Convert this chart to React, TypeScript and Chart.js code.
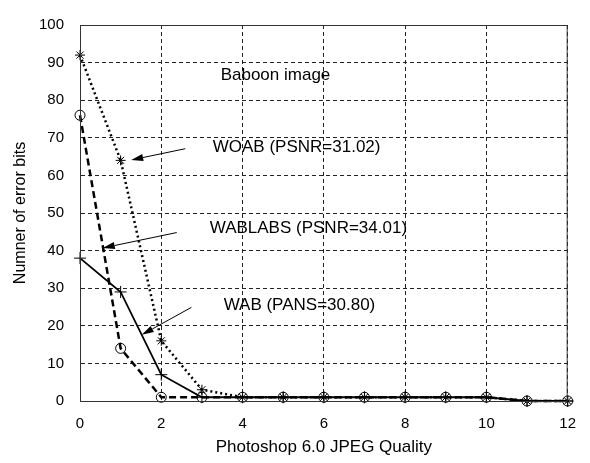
import React, { useEffect, useRef } from "react";
import { Chart, registerables } from "chart.js";

Chart.register(...registerables);

const quality = [0, 1, 2, 3, 4, 5, 6, 7, 8, 9, 10, 11, 12];
const woab = [92, 64, 16, 3, 1, 1, 1, 1, 1, 1, 1, 0, 0];
const wablabs = [76, 14, 1, 1, 1, 1, 1, 1, 1, 1, 1, 0, 0];
const wab = [38, 29, 7, 1, 1, 1, 1, 1, 1, 1, 1, 0, 0];

const xTickValues = [0, 2, 4, 6, 8, 10, 12];
const yTickValues = [0, 10, 20, 30, 40, 50, 60, 70, 80, 90, 100];

const noteTexts = ["Baboon image", "WOAB (PSNR=31.02)", "WABLABS (PSNR=34.01)", "WAB (PANS=30.80)"];
const noteX = [4.81, 5.33, 5.62, 5.4];
const noteY = [86.6, 67.4, 45.8, 25.4];

const arrowFromX = [2.59, 2.38, 2.74];
const arrowFromY = [67.1, 44.8, 24.9];
const arrowToX = [1.26, 0.56, 1.52];
const arrowToY = [64.1, 40.7, 17.6];

const FONT = "'Liberation Sans', Arial, sans-serif";
const NARROW = "'Liberation Sans Narrow', 'Arial Narrow', 'Liberation Sans', sans-serif";

const toPoints = (ys: number[]) => quality.map((x, i) => ({ x, y: ys[i] }));

const annotationPlugin = {
  id: "notes",
  afterDatasetsDraw(chart: any) {
    const { ctx, chartArea, scales } = chart;
    const xs = scales.x;
    const ys = scales.y;
    ctx.save();
    ctx.strokeStyle = "#333";
    ctx.lineWidth = 1;
    ctx.setLineDash([]);
    ctx.strokeRect(chartArea.left + 0.5, chartArea.top + 0.5, chartArea.right - chartArea.left - 1, chartArea.bottom - chartArea.top);
    ctx.fillStyle = "#000";
    ctx.font = `17px ${FONT}`;
    ctx.textAlign = "center";
    ctx.textBaseline = "middle";
    noteTexts.forEach((t, i) => {
      ctx.fillText(t, xs.getPixelForValue(noteX[i]), ys.getPixelForValue(noteY[i]));
    });
    ctx.strokeStyle = "#000";
    ctx.lineWidth = 1;
    arrowFromX.forEach((_, i) => {
      const x1 = xs.getPixelForValue(arrowFromX[i]);
      const y1 = ys.getPixelForValue(arrowFromY[i]);
      const x2 = xs.getPixelForValue(arrowToX[i]);
      const y2 = ys.getPixelForValue(arrowToY[i]);
      const ang = Math.atan2(y2 - y1, x2 - x1);
      const len = 12;
      const half = 3.5;
      const bx = x2 - len * Math.cos(ang);
      const by = y2 - len * Math.sin(ang);
      ctx.beginPath();
      ctx.moveTo(x1, y1);
      ctx.lineTo(bx, by);
      ctx.stroke();
      ctx.beginPath();
      ctx.moveTo(x2, y2);
      ctx.lineTo(bx - half * Math.sin(ang), by + half * Math.cos(ang));
      ctx.lineTo(bx + half * Math.sin(ang), by - half * Math.cos(ang));
      ctx.closePath();
      ctx.fill();
    });
    ctx.restore();
  },
};

export default function App() {
  const ref = useRef<HTMLCanvasElement | null>(null);
  useEffect(() => {
    if (!ref.current) return;
    const chart = new Chart(ref.current, {
      type: "line",
      data: {
        datasets: [
          {
            label: "WOAB",
            data: toPoints(woab),
            borderColor: "#000",
            backgroundColor: "#000",
            borderWidth: 2.5,
            borderDash: [2, 3],
            pointStyle: "star",
            pointRadius: 5,
            pointBorderWidth: 1,
            pointBorderColor: "#000",
            clip: false,
          } as any,
          {
            label: "WABLABS",
            data: toPoints(wablabs),
            borderColor: "#000",
            backgroundColor: "rgba(0,0,0,0)",
            borderWidth: 2.5,
            borderDash: [7, 4],
            pointStyle: "circle",
            pointRadius: 5,
            pointBorderWidth: 1,
            pointBorderColor: "#000",
            pointBackgroundColor: "rgba(255,255,255,0)",
            clip: false,
          } as any,
          {
            label: "WAB",
            data: toPoints(wab),
            borderColor: "#000",
            backgroundColor: "#000",
            borderWidth: 1.8,
            pointStyle: "cross",
            pointRadius: 6,
            pointBorderWidth: 1,
            pointBorderColor: "#000",
            clip: false,
          } as any,
        ],
      },
      options: {
        responsive: false,
        animation: false,
        layout: { padding: { top: 12, right: 16, left: 0, bottom: 0 } },
        plugins: { legend: { display: false }, tooltip: { enabled: false } },
        scales: {
          x: {
            type: "linear",
            min: 0,
            max: 12,
            afterBuildTicks: (s: any) => {
              s.ticks = xTickValues.map((v) => ({ value: v }));
            },
            afterFit: (s: any) => {
              s.height = 62;
            },
            grid: { color: "#222", lineWidth: 1, drawTicks: false },
            border: { display: true, color: "#333", width: 1, dash: [4, 3] },
            ticks: { color: "#000", font: { family: NARROW, size: 15 }, padding: 14, maxRotation: 0 },
            title: {
              display: true,
              text: "Photoshop 6.0 JPEG Quality",
              color: "#000",
              font: { family: FONT, size: 17 },
              padding: { top: 0, bottom: 5 },
            },
          },
          y: {
            type: "linear",
            min: 0,
            max: 100,
            afterBuildTicks: (s: any) => {
              s.ticks = yTickValues.map((v) => ({ value: v }));
            },
            afterFit: (s: any) => {
              s.width = 80;
            },
            grid: { color: "#222", lineWidth: 1, drawTicks: false },
            border: { display: true, color: "#333", width: 1, dash: [4, 3] },
            ticks: { color: "#000", font: { family: NARROW, size: 15 }, padding: 16 },
            title: {
              display: true,
              text: "Numner of error bits",
              color: "#000",
              font: { family: FONT, size: 16 },
              padding: { top: 11, bottom: 0 },
            },
          },
        },
      } as any,
      plugins: [annotationPlugin],
    });
    return () => chart.destroy();
  }, []);
  return (
    <div style={{ position: "fixed", left: 0, top: 0, width: 590, height: 463, background: "#fff" }}>
      <canvas ref={ref} width={590} height={463} style={{ width: 590, height: 463 }} />
    </div>
  );
}
